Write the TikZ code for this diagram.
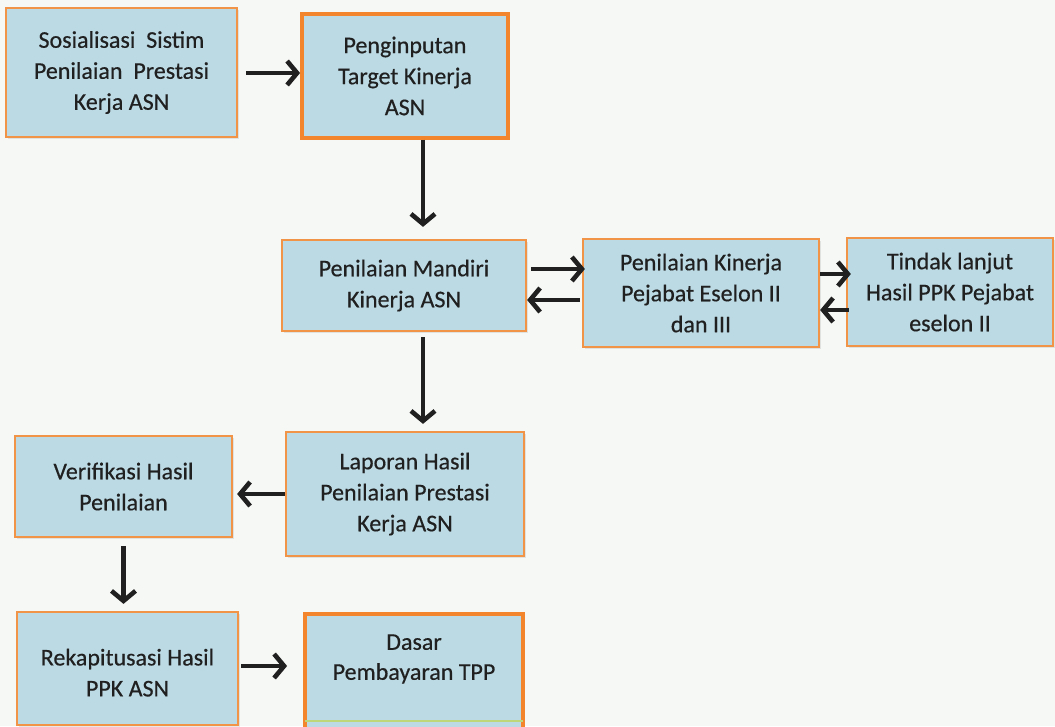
\documentclass[tikz,border=0pt]{standalone}
\usepackage{fontspec}
\setmainfont{Carlito}
\newfontfamily\boxfont{Carlito}[UprightFeatures={FakeBold=0.45}]
\usetikzlibrary{arrows.meta,shadows}
\definecolor{boxfill}{RGB}{188,218,228}
\definecolor{boxedge}{RGB}{241,148,72}
\definecolor{boxedgestrong}{RGB}{243,133,45}
\definecolor{paper}{RGB}{246,248,245}
\definecolor{ink}{RGB}{32,32,32}
\definecolor{seam}{RGB}{190,215,120}
\begin{document}
\begin{tikzpicture}[x=1pt,y=-1pt,
  stagebox/.style={draw=boxedge,line width=2.2pt,fill=boxfill,inner sep=0pt,
    text=ink,align=center,font=\boxfont\fontsize{24}{31}\selectfont,
    drop shadow={opacity=0.18,shadow xshift=1.5pt,shadow yshift=-1.5pt}},
  keybox/.style={stagebox,draw=boxedgestrong,line width=3.8pt},
  flow/.style={draw=ink,line width=4.6pt,
    -{Straight Barb[length=10pt,width=24pt,line width=4.6pt]}}
]
\fill[paper] (0,0) rectangle (1055,726);
\useasboundingbox (0,0) rectangle (1055,726);

% first row
\node[stagebox,minimum width=231,minimum height=129] (sos) at (121.5,72.5)
  {Sosialisasi\ \ Sistim\\Penilaian\ \ Prestasi\\Kerja ASN};
\node[keybox,minimum width=206,minimum height=124] (input) at (405,76)
  {Penginputan\\Target Kinerja\\ASN};

% second row
\node[stagebox,minimum width=244,minimum height=91] (mandiri) at (404,285.5)
  {Penilaian Mandiri\\Kinerja ASN};
\node[stagebox,minimum width=236,minimum height=108] (eselon) at (701,293)
  {Penilaian Kinerja\\Pejabat Eselon II\\dan III};
\node[stagebox,minimum width=206,minimum height=108] (tindak) at (950,292)
  {Tindak lanjut\\Hasil PPK Pejabat\\eselon II};

% third row
\node[stagebox,minimum width=217,minimum height=101] (verif) at (123.5,486.5)
  {Verifikasi Hasil\\Penilaian};
\node[stagebox,minimum width=238,minimum height=124] (lapor) at (405,494)
  {Laporan Hasil\\Penilaian Prestasi\\Kerja ASN};

% fourth row
\node[stagebox,minimum width=221,minimum height=113] (rekap) at (127.5,668.5)
  {\\[-6pt]Rekapitusasi Hasil\\PPK ASN};
\node[keybox,minimum width=218,minimum height=130,anchor=north] (dasar) at (414,612) {};
\draw[seam,line width=1.2pt] ([xshift=2pt]dasar.west |- 0,721) -- ([xshift=-2pt]dasar.east |- 0,721);
\node[text=ink,align=center,font=\boxfont\fontsize{24}{30}\selectfont]
  (dasartext) at (414,659) {Dasar\\Pembayaran TPP};

% connectors
\draw[flow,shorten <=8pt] (sos.east |- 0,73) -- (input.west |- 0,73);
\draw[flow,shorten >=12pt] (input.south -| 423,0) -- (mandiri.north -| 423,0);
\draw[flow,shorten <=4pt,shorten >=-3pt] (mandiri.east |- 0,269) -- (eselon.west |- 0,269);
\draw[flow,shorten <=2pt] (eselon.west |- 0,300) -- (mandiri.east |- 0,300);
\draw[flow,shorten >=-5pt] (eselon.east |- 0,274) -- (tindak.west |- 0,274);
\draw[flow,shorten <=-3pt] (tindak.west |- 0,310) -- (eselon.east |- 0,310);
\draw[flow,shorten <=5pt,shorten >=7pt] (mandiri.south -| 423,0) -- (lapor.north -| 423,0);
\draw[flow,shorten >=4pt] (lapor.west |- 0,494) -- (verif.east |- 0,494);
\draw[flow,shorten <=8pt,shorten >=7pt] (verif.south) -- (rekap.north -| verif.south);
\draw[flow,shorten <=2pt,shorten >=16pt] (rekap.east |- 0,666) -- (dasar.west |- 0,666);
\end{tikzpicture}
\end{document}
